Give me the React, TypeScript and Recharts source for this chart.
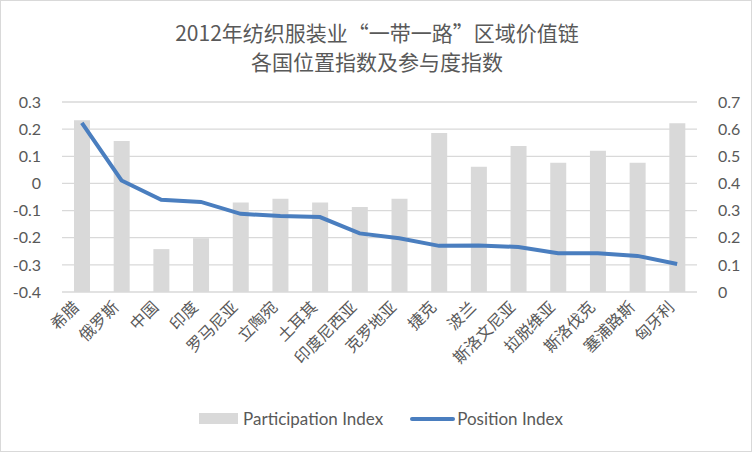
import {
  ComposedChart,
  Bar,
  Line,
  XAxis,
  YAxis,
  CartesianGrid,
  Legend,
} from "recharts";

const countries = [
  "希腊", "俄罗斯", "中国", "印度", "罗马尼亚", "立陶宛", "土耳其", "印度尼西亚",
  "克罗地亚", "捷克", "波兰", "斯洛文尼亚", "拉脱维亚", "斯洛伐克", "塞浦路斯", "匈牙利",
];

const participation = [
  0.633, 0.556, 0.158, 0.198, 0.33, 0.344, 0.33, 0.313,
  0.344, 0.586, 0.461, 0.538, 0.476, 0.52, 0.476, 0.622,
];

const position = [
  0.223, 0.011, -0.06, -0.068, -0.112, -0.12, -0.124, -0.184,
  -0.202, -0.23, -0.229, -0.234, -0.257, -0.257, -0.267, -0.297,
];

const leftTicks = [-0.4, -0.3, -0.2, -0.1, 0, 0.1, 0.2, 0.3];
const rightTicks = [0, 0.1, 0.2, 0.3, 0.4, 0.5, 0.6, 0.7];

const data = countries.map((name, i) => ({
  name,
  participation: participation[i],
  position: position[i],
}));

const FONT = "Lato, 'Noto Sans CJK SC', sans-serif";
const TEXT = "#595959";

function CountryTick(props: any) {
  const { x, y, payload } = props;
  return (
    <g transform={`translate(${x - 6},${y + 4})`}>
      <text
        textAnchor="end"
        transform="rotate(-45)"
        fontSize={16}
        fill={TEXT}
        fontFamily="'Noto Sans CJK SC', sans-serif"
        dy={6}
      >
        {payload.value}
      </text>
    </g>
  );
}

function LegendBox() {
  return (
    <div
      style={{
        display: "flex",
        alignItems: "center",
        justifyContent: "center",
        fontFamily: FONT,
        fontSize: 17,
        color: TEXT,
        paddingLeft: 10,
      }}
    >
      <span style={{ width: 39, height: 11, background: "#d9d9d9", marginRight: 5 }} />
      <span>Participation Index</span>
      <span
        style={{
          width: 45,
          height: 4,
          borderRadius: 2,
          background: "#4a7ebf",
          marginLeft: 27,
          marginRight: 2,
        }}
      />
      <span>Position Index</span>
    </div>
  );
}

export default function App() {
  return (
    <div
      style={{
        position: "absolute",
        left: 0,
        top: 0,
        width: 752,
        height: 452,
        background: "#fff",
        boxSizing: "border-box",
        border: "1px solid #d9d9d9",
      }}
    >
      <div
        style={{
          position: "absolute",
          top: 17,
          left: 0,
          width: 752,
          textAlign: "center",
          fontFamily: "'Noto Sans CJK SC', sans-serif",
          fontSize: 21,
          lineHeight: "29px",
          color: TEXT,
        }}
      >
        2012年纺织服装业“一带一路”区域价值链
        <br />
        各国位置指数及参与度指数
      </div>
      <ComposedChart
        width={750}
        height={450}
        data={data}
        margin={{ top: 101, right: 0, left: 0, bottom: 38 }}
        style={{ position: "absolute", left: 0, top: 0 }}
      >
        <CartesianGrid
          yAxisId="left"
          vertical={false}
          stroke="#d9d9d9"
          strokeWidth={1.3}
        />
        <XAxis
          dataKey="name"
          axisLine={false}
          tickLine={false}
          interval={0}
          height={100}
          tick={<CountryTick />}
        />
        <YAxis
          yAxisId="left"
          domain={[-0.4, 0.3]}
          ticks={leftTicks}
          width={61}
          axisLine={false}
          tickLine={false}
          tickMargin={15}
          tick={{ fontSize: 16, fill: TEXT, fontFamily: FONT }}
        />
        <YAxis
          yAxisId="right"
          orientation="right"
          domain={[0, 0.7]}
          ticks={rightTicks}
          width={54}
          axisLine={false}
          tickLine={false}
          tickMargin={15}
          tick={{ fontSize: 16, fill: TEXT, fontFamily: FONT, textAnchor: "start" }}
        />
        <Bar
          yAxisId="right"
          dataKey="participation"
          name="Participation Index"
          fill="#d9d9d9"
          barSize={16}
          isAnimationActive={false}
        />
        <Line
          yAxisId="left"
          dataKey="position"
          name="Position Index"
          stroke="#4a7ebf"
          strokeWidth={4}
          dot={false}
          type="linear"
          isAnimationActive={false}
        />
        <Legend
          verticalAlign="bottom"
          content={() => <LegendBox />}
          wrapperStyle={{ bottom: 22 }}
        />
      </ComposedChart>
    </div>
  );
}
